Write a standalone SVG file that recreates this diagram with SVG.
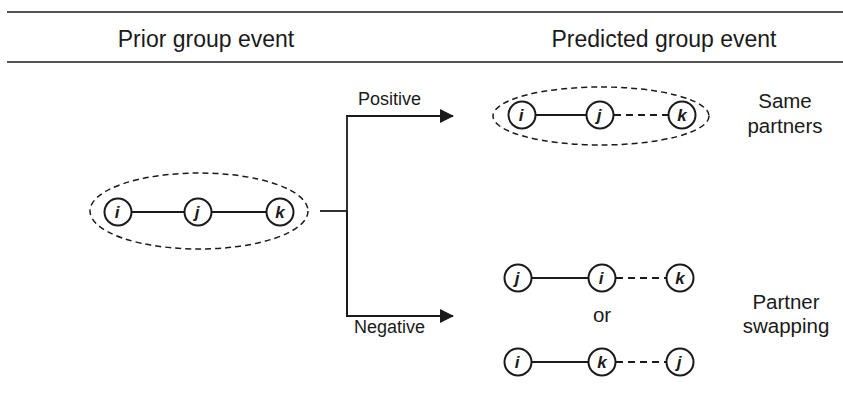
<svg xmlns="http://www.w3.org/2000/svg" width="843" height="394" viewBox="0 0 843 394">
<defs>
<style>
.rule{stroke:#1a1a1a;stroke-width:1.6;fill:none}
.hdr{font-family:"Liberation Sans",Arial,sans-serif;font-size:23px;fill:#1a1a1a;text-anchor:middle}
.lbl{font-family:"Liberation Sans",Arial,sans-serif;font-size:18px;fill:#1a1a1a}
.side{font-family:"Liberation Sans",Arial,sans-serif;font-size:20.5px;fill:#1a1a1a;text-anchor:middle}
.node circle{fill:#fff;stroke:#1a1a1a;stroke-width:2}
.node text{font-family:"Liberation Sans",Arial,sans-serif;font-size:17px;font-weight:bold;font-style:italic;fill:#1a1a1a;text-anchor:middle}
.solid{stroke:#1a1a1a;stroke-width:2.2;fill:none}
.dash{stroke:#1a1a1a;stroke-width:2;fill:none;stroke-dasharray:7,5}
.grp{stroke:#1a1a1a;stroke-width:1.5;fill:none;stroke-dasharray:6,4}
.conn{stroke:#1a1a1a;stroke-width:1.8;fill:none}
</style>
<marker id="arr" viewBox="0 0 14 14" refX="13" refY="7" markerWidth="14" markerHeight="14" markerUnits="userSpaceOnUse" orient="auto">
<path d="M0,0 L14,7 L0,14 Z" fill="#1a1a1a"/>
</marker>
</defs>
<rect width="843" height="394" fill="#fff"/>
<line class="rule" x1="7" y1="12" x2="843" y2="12"/>
<line class="rule" x1="7" y1="62" x2="843" y2="62"/>
<text class="hdr" x="206" y="47">Prior group event</text>
<text class="hdr" x="664" y="47">Predicted group event</text>

<g id="connectors">
<polyline class="conn" points="320,211 347,211"/>
<polyline class="conn" points="347,317 347,116 453,116" marker-end="url(#arr)"/>
<polyline class="conn" points="347,211 347,316 453,316" marker-end="url(#arr)"/>
<text class="lbl" x="358" y="105">Positive</text>
<text class="lbl" x="354" y="333">Negative</text>
</g>

<g id="prior-group">
<ellipse class="grp" cx="199" cy="211" rx="109" ry="38"/>
<line class="solid" x1="118" y1="212" x2="280" y2="212"/>
<g class="node" id="prior-i"><circle cx="118" cy="212" r="13.5"/><text x="117" y="218">i</text></g>
<g class="node" id="prior-j"><circle cx="198" cy="212" r="13.5"/><text x="197" y="218">j</text></g>
<g class="node" id="prior-k"><circle cx="280" cy="212" r="13.5"/><text x="280" y="218">k</text></g>
</g>

<g id="same-partners">
<ellipse class="grp" cx="601" cy="116" rx="108" ry="29"/>
<line class="solid" x1="522" y1="115" x2="600" y2="115"/>
<line class="dash" x1="614" y1="115" x2="669" y2="115"/>
<g class="node" id="sp-i"><circle cx="522" cy="115" r="13.5"/><text x="521" y="121">i</text></g>
<g class="node" id="sp-j"><circle cx="600" cy="115" r="13.5"/><text x="599" y="121">j</text></g>
<g class="node" id="sp-k"><circle cx="682" cy="115" r="13.5"/><text x="682" y="121">k</text></g>
<text class="side" x="785" y="108">Same</text>
<text class="side" x="785" y="133">partners</text>
</g>

<g id="swap-1">
<line class="solid" x1="518" y1="278" x2="602" y2="278"/>
<line class="dash" x1="616" y1="278" x2="667" y2="278"/>
<g class="node" id="s1-j"><circle cx="518" cy="278" r="13.5"/><text x="517" y="284">j</text></g>
<g class="node" id="s1-i"><circle cx="602" cy="278" r="13.5"/><text x="601" y="284">i</text></g>
<g class="node" id="s1-k"><circle cx="680" cy="278" r="13.5"/><text x="680" y="284">k</text></g>
</g>
<text class="side" x="602" y="322">or</text>
<g id="swap-2">
<line class="solid" x1="518" y1="362" x2="602" y2="362"/>
<line class="dash" x1="616" y1="362" x2="667" y2="362"/>
<g class="node" id="s2-i"><circle cx="518" cy="362" r="13.5"/><text x="517" y="368">i</text></g>
<g class="node" id="s2-k"><circle cx="602" cy="362" r="13.5"/><text x="602" y="368">k</text></g>
<g class="node" id="s2-j"><circle cx="680" cy="362" r="13.5"/><text x="679" y="368">j</text></g>
</g>
<text class="side" x="786" y="309">Partner</text>
<text class="side" x="786" y="333">swapping</text>
</svg>
